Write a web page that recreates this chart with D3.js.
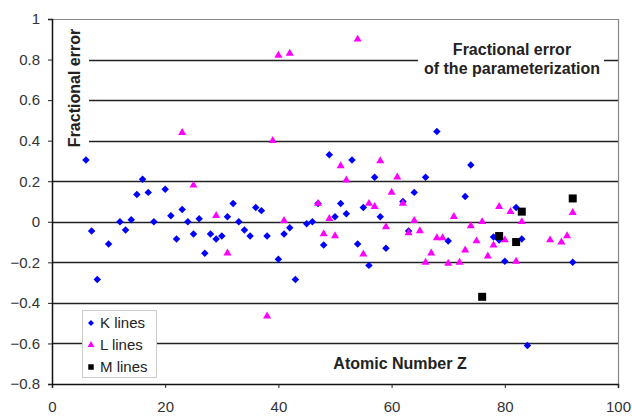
<!DOCTYPE html>
<html>
<head>
<meta charset="utf-8">
<script src="https://cdnjs.cloudflare.com/ajax/libs/d3/7.8.5/d3.min.js"></script>
<style>
    body { margin: 0; background: #fff; }
    text { font-family: "Liberation Sans", Arial, sans-serif; }
</style>
</head>
<body>
<script>
//K lines: [Z, fractional error]
var kLines = [[6,0.305],[7,-0.045],[8,-0.285],[10,-0.11],[12,0.0],[13,-0.04],[14,0.01],[15,0.135],
    [16,0.21],[17,0.145],[18,0.0],[20,0.16],[21,0.03],[22,-0.085],[23,0.06],[24,0.0],[25,-0.06],
    [26,0.015],[27,-0.155],[28,-0.06],[29,-0.085],[30,-0.07],[31,0.025],[32,0.09],[33,0.0],
    [34,-0.04],[35,-0.07],[36,0.07],[37,0.055],[38,-0.07],[40,-0.185],[41,-0.06],[42,-0.03],
    [43,-0.285],[45,-0.01],[46,0.0],[47,0.09],[48,-0.115],[49,0.33],[50,0.025],[51,0.09],
    [52,0.04],[53,0.305],[54,-0.11],[55,0.07],[56,-0.215],[57,0.22],[58,0.025],[59,-0.13],
    [62,0.10],[63,-0.045],[64,0.145],[66,0.22],[68,0.445],[70,-0.095],[73,0.125],[74,0.28],
    [78,-0.075],[79,-0.09],[80,-0.195],[82,0.07],[83,-0.085],[84,-0.61],[92,-0.20]];

//L lines
var lLines = [[23,0.44],[25,0.18],[29,0.03],[31,-0.155],[38,-0.465],[39,0.40],[40,0.82],[41,0.005],
    [42,0.83],[47,0.09],[48,-0.06],[49,0.015],[50,-0.07],[51,0.275],[52,0.205],[54,0.90],
    [55,-0.16],[56,0.09],[57,0.075],[58,0.30],[59,-0.025],[60,0.145],[61,0.22],[62,0.09],
    [63,-0.055],[64,0.005],[65,-0.045],[66,-0.20],[67,-0.155],[68,-0.08],[69,-0.08],[70,-0.205],
    [71,0.025],[72,-0.20],[73,-0.14],[74,-0.02],[75,-0.095],[76,0.0],[77,-0.17],[78,-0.115],
    [79,0.075],[80,-0.09],[81,0.05],[82,-0.195],[83,0.0],[88,-0.09],[90,-0.10],[91,-0.07],[92,0.045]];

//M lines
var mLines = [[76,-0.37],[79,-0.07],[82,-0.10],[83,0.05],[92,0.115]];

//axis ticks
var xTicks = [0, 20, 40, 60, 80, 100];
var yTicks = [-0.8, -0.6, -0.4, -0.2, 0, 0.2, 0.4, 0.6, 0.8, 1];
var gridTicks = [-0.6, -0.4, -0.2, 0, 0.2, 0.4, 0.6, 0.8];

var legendNames = ["K lines", "L lines", "M lines"];

var width = 632,
    height = 416,
    margin = {top: 19, right: 14, bottom: 32, left: 52};

var svg = d3.select("body")
    .append("svg")
    .attr("width", width)
    .attr("height", height);

var x = d3.scaleLinear()
    .domain([0, 100])
    .range([margin.left, width - margin.right]);

var y = d3.scaleLinear()
    .domain([-0.8, 1])
    .range([height - margin.bottom, margin.top]);

//horizontal gridlines
svg.selectAll(".grid")
    .data(gridTicks)
    .enter()
    .append("line")
    .attr("class", "grid")
    .attr("x1", x(0))
    .attr("x2", x(100))
    .attr("y1", function(d){ return Math.round(y(d)) + 0.5; })
    .attr("y2", function(d){ return Math.round(y(d)) + 0.5; })
    .attr("stroke", "#222")
    .attr("stroke-width", 1.5);

//top and right border of plot area
svg.append("path")
    .attr("d", "M" + x(0) + "," + (y(1) + 0.5) + "H" + (x(100) + 0.5) + "V" + y(-0.8))
    .attr("fill", "none")
    .attr("stroke", "#888")
    .attr("stroke-width", 1.2);

//white boxes behind the labels inside the plot
svg.append("rect")
    .attr("x", x(0) + 1).attr("y", y(1) + 2)
    .attr("width", 36).attr("height", 130)
    .attr("fill", "#fff");
svg.append("rect")
    .attr("x", 418).attr("y", 36)
    .attr("width", 186).attr("height", 44)
    .attr("fill", "#fff");

//axes
var xAxis = d3.axisBottom(x)
    .tickValues(xTicks)
    .tickSize(4)
    .tickPadding(13);
var yAxis = d3.axisLeft(y)
    .tickValues(yTicks)
    .tickSize(4)
    .tickPadding(8)
    .tickFormat(function(d){ return d3.format("")(Math.round(d * 10) / 10); });

svg.append("g")
    .attr("transform", "translate(0," + y(-0.8) + ")")
    .call(xAxis)
    .call(function(g){ g.select(".domain").attr("stroke", "#111").attr("stroke-width", 1.5); });

svg.append("g")
    .attr("transform", "translate(" + x(0) + ",0)")
    .call(yAxis)
    .call(function(g){ g.select(".domain").attr("stroke", "#111").attr("stroke-width", 1.5); });

svg.selectAll(".tick text")
    .attr("font-size", 15)
    .attr("font-family", "Liberation Sans, Arial, sans-serif")
    .attr("fill", "#333");
svg.selectAll(".tick line").attr("stroke", "#222");

//labels
svg.append("text")
    .attr("transform", "translate(80,88) rotate(-90)")
    .attr("text-anchor", "middle")
    .attr("font-size", 16)
    .attr("font-weight", "bold")
    .attr("fill", "#222")
    .text("Fractional error");

svg.append("text")
    .attr("x", 512).attr("y", 55)
    .attr("text-anchor", "middle")
    .attr("font-size", 16)
    .attr("font-weight", "bold")
    .attr("fill", "#222")
    .text("Fractional error");
svg.append("text")
    .attr("x", 512).attr("y", 74)
    .attr("text-anchor", "middle")
    .attr("font-size", 16)
    .attr("font-weight", "bold")
    .attr("fill", "#222")
    .text("of the parameterization");

svg.append("text")
    .attr("x", 400).attr("y", 369)
    .attr("text-anchor", "middle")
    .attr("font-size", 16)
    .attr("font-weight", "bold")
    .attr("fill", "#222")
    .text("Atomic Number Z");

//markers
var diamond = d3.symbol().type(d3.symbolSquare).size(28);
var triangle = d3.symbol().type(d3.symbolTriangle).size(28);
var square = d3.symbol().type(d3.symbolSquare).size(64);

svg.selectAll(".kpt")
    .data(kLines)
    .enter()
    .append("path")
    .attr("class", "kpt")
    .attr("d", diamond)
    .attr("transform", function(d){ return "translate(" + x(d[0]) + "," + y(d[1]) + ") rotate(45)"; })
    .attr("fill", "#0000ff");

svg.selectAll(".lpt")
    .data(lLines)
    .enter()
    .append("path")
    .attr("class", "lpt")
    .attr("d", triangle)
    .attr("transform", function(d){ return "translate(" + x(d[0]) + "," + y(d[1]) + ")"; })
    .attr("fill", "#ff00ff");

svg.selectAll(".mpt")
    .data(mLines)
    .enter()
    .append("path")
    .attr("class", "mpt")
    .attr("d", square)
    .attr("transform", function(d){ return "translate(" + x(d[0]) + "," + y(d[1]) + ")"; })
    .attr("fill", "#000");

//legend
var legend = svg.append("g").attr("transform", "translate(82,310)");
legend.append("rect")
    .attr("x", 0.5).attr("y", 0.5)
    .attr("width", 74).attr("height", 67)
    .attr("fill", "#fff")
    .attr("stroke", "#ccc");

var legendMarks = [
    {sym: d3.symbol().type(d3.symbolSquare).size(18)(), rot: 45, fill: "#0000ff"},
    {sym: d3.symbol().type(d3.symbolTriangle).size(20)(), rot: 0, fill: "#ff00ff"},
    {sym: d3.symbol().type(d3.symbolSquare).size(30)(), rot: 0, fill: "#000"}
];

legend.selectAll(".lg")
    .data(legendNames)
    .enter()
    .append("g")
    .attr("class", "lg")
    .attr("transform", function(d, i){ return "translate(0," + (13 + i * 22) + ")"; })
    .each(function(d, i){
        var g = d3.select(this);
        g.append("path")
            .attr("d", legendMarks[i].sym)
            .attr("transform", "translate(9,0) rotate(" + legendMarks[i].rot + ")")
            .attr("fill", legendMarks[i].fill);
        g.append("text")
            .attr("x", 18).attr("y", 5)
            .attr("font-size", 15)
            .attr("fill", "#222")
            .text(d);
    });
</script>
</body>
</html>
